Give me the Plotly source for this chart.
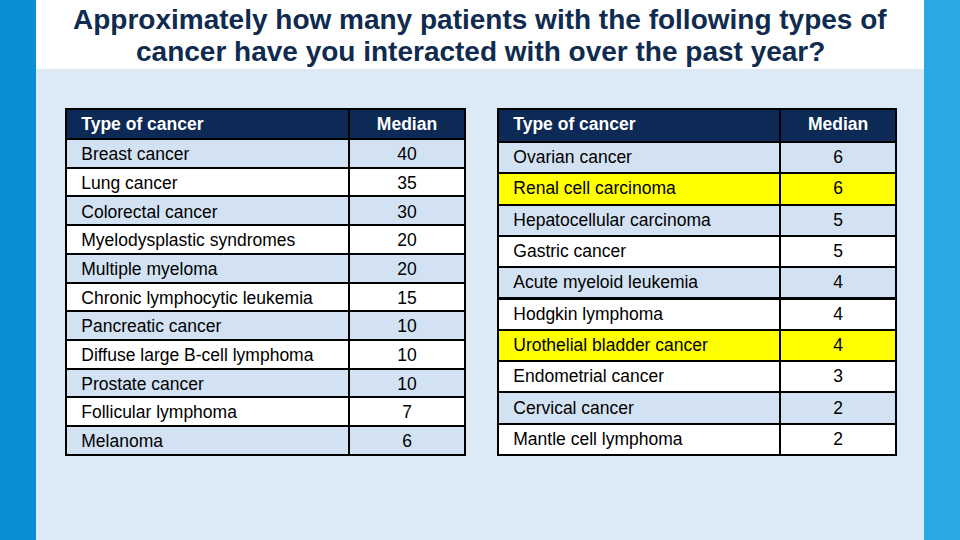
import plotly.graph_objects as go

W, H = 960, 540

title_lines = ["Approximately how many patients with the following types of",
               "cancer have you interacted with over the past year?"]

header_labels = ["Type of cancer", "Median"]

left_types = ["Breast cancer", "Lung cancer", "Colorectal cancer", "Myelodysplastic syndromes",
              "Multiple myeloma", "Chronic lymphocytic leukemia", "Pancreatic cancer",
              "Diffuse large B-cell lymphoma", "Prostate cancer", "Follicular lymphoma", "Melanoma"]
left_medians = [40, 35, 30, 20, 20, 15, 10, 10, 10, 7, 6]

right_types = ["Ovarian cancer", "Renal cell carcinoma", "Hepatocellular carcinoma", "Gastric cancer",
               "Acute myeloid leukemia", "Hodgkin lymphoma", "Urothelial bladder cancer",
               "Endometrial cancer", "Cervical cancer", "Mantle cell lymphoma"]
right_medians = [6, 6, 5, 5, 4, 4, 4, 3, 2, 2]
right_highlight = ["Renal cell carcinoma", "Urothelial bladder cancer"]

NAVY = "#0c2a55"
LIGHT = "#d3e2f3"
WHITE = "#ffffff"
YELLOW = "#ffff00"
FONT = "Arial, Liberation Sans, sans-serif"
CLEAR = "rgba(0,0,0,0)"
HEADER_GAP = 16  # space taken by the (empty, invisible) built-in header
PAD = "\u2005\u2006"

left_fill = [LIGHT if i % 2 == 0 else WHITE for i in range(len(left_types))]
right_pattern = [LIGHT, None, LIGHT, WHITE, LIGHT, WHITE, None, WHITE, LIGHT, WHITE]
right_fill = [YELLOW if t in right_highlight else c for t, c in zip(right_types, right_pattern)]

def px_x(v):
    return v / W

def px_y(v):
    return 1 - v / H

def block(col1, col2, fill, fcolor, weight, x0, x1, top, rh):
    return go.Table(
        domain=dict(x=[px_x(x0), px_x(x1)], y=[0, px_y(top - HEADER_GAP)]),
        columnwidth=[283, 116],
        header=dict(values=[], height=1, fill_color=CLEAR,
                    line=dict(color=CLEAR, width=0)),
        cells=dict(
            values=[col1, col2],
            fill_color=[fill, fill],
            line=dict(color="#000000", width=2),
            align=["left", "center"],
            font=dict(family=FONT, size=17.5, color=fcolor, weight=weight),
            height=rh,
        ),
    )

def add_table(fig, types, medians, fills, x0, x1, top, hh, rh):
    fig.add_trace(block([PAD + header_labels[0]], [header_labels[1]], [NAVY], "#ffffff", 700,
                        x0, x1, top, hh))
    fig.add_trace(block([PAD + t for t in types], [str(m) for m in medians], fills, "#000000", 400,
                        x0, x1, top + hh, rh))

fig = go.Figure()
add_table(fig, left_types, left_medians, left_fill, 66, 465, 109, 30, 28.7)
add_table(fig, right_types, right_medians, right_fill, 498, 897, 109, 33, 31.3)

shapes = [
    dict(type="rect", xref="paper", yref="paper", x0=px_x(480), x1=1, y0=0, y1=1,
         fillcolor="#2aa8e6", line_width=0, layer="below"),
    dict(type="rect", xref="paper", yref="paper", x0=px_x(36), x1=px_x(924), y0=0, y1=1,
         fillcolor="#dceaf6", line_width=0, layer="below"),
    dict(type="rect", xref="paper", yref="paper", x0=px_x(36), x1=px_x(924), y0=px_y(69), y1=1,
         fillcolor="#ffffff", line_width=0, layer="below"),
]

annotations = [
    dict(text="<b>" + title_lines[0] + "</b>", x=0.5, y=px_y(20), xref="paper", yref="paper",
         showarrow=False, xanchor="center", yanchor="middle",
         font=dict(family=FONT, size=28, color="#0f2b4f")),
    dict(text="<b>" + title_lines[1] + "</b>", x=0.5, y=px_y(51), xref="paper", yref="paper",
         showarrow=False, xanchor="center", yanchor="middle",
         font=dict(family=FONT, size=28, color="#0f2b4f")),
]

fig.update_layout(
    width=W, height=H,
    margin=dict(l=0, r=0, t=0, b=0),
    paper_bgcolor="#0a8fd5",
    plot_bgcolor="rgba(0,0,0,0)",
    shapes=shapes,
    annotations=annotations,
    showlegend=False,
)

fig.write_html("out.html", config={"displayModeBar": False},
               post_script="document.body.style.margin='0';document.body.style.overflow='hidden';")
